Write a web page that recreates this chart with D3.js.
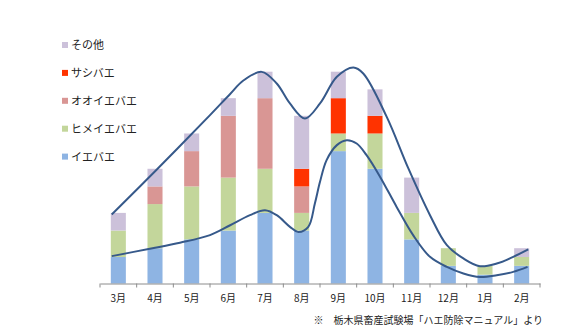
<!DOCTYPE html>
<html><head><meta charset="utf-8">
<script src="https://cdn.jsdelivr.net/npm/d3@7"></script>
<style>
html,body{margin:0;padding:0;background:#fff;}
svg{display:block;font-family:"Noto Sans CJK JP","Noto Sans",sans-serif;}
</style></head><body>
<svg id="c" width="562" height="332"></svg>
<script>
const months = ["3月","4月","5月","6月","7月","8月","9月","10月","11月","12月","1月","2月"];
const seriesNames = ["イエバエ","ヒメイエバエ","オオイエバエ","サシバエ","その他"];
const ieBae      = [1.5, 2, 2.5, 3, 4, 3, 7.5, 6.5, 2.5, 1, 0.5, 1];
const himeIeBae  = [1.5, 2.5, 3, 3, 2.5, 1, 1, 2, 1.5, 1, 0.5, 0.5];
const ooIeBae    = [0, 1, 2, 3.5, 4, 1.5, 0, 0, 0, 0, 0, 0];
const sashiBae   = [0, 0, 0, 0, 0, 1, 2, 1, 0, 0, 0, 0];
const sonota     = [1, 1, 1, 1, 1.5, 3, 1.5, 1.5, 2, 0, 0, 0.5];
const colors = ["#8EB4E3","#C3D69B","#D99694","#FF3300","#CCC1DA"];
// hand-drawn envelope curves: [month index, value]
const upperCurve = [[-0.18,3.91],[1.05,6.46],[2.5,9.54],[3.05,10.74],[3.41,11.5],[3.91,11.99],[4.32,11.33],[4.68,10.2],[5.09,9.35],[5.5,10.2],[5.96,11.71],[6.41,12.24],[6.68,11.9],[7.32,9.44],[7.91,6.52],[8.5,3.87],[8.96,2.17],[9.41,1.42],[9.86,0.98],[10.32,1.13],[10.77,1.51],[11.18,1.93]];
const lowerCurve = [[-0.18,1.55],[0.86,1.97],[1.68,2.31],[2.5,2.74],[3.05,3.3],[3.59,3.87],[4.0,4.15],[4.32,3.87],[4.68,3.21],[4.91,2.92],[5.18,3.21],[5.36,4.53],[5.5,5.76],[5.68,6.99],[5.96,7.84],[6.23,8.12],[6.5,7.93],[6.77,7.27],[7.14,6.04],[7.59,4.34],[8.04,2.74],[8.5,1.51],[8.96,0.94],[9.41,0.57],[9.86,0.37],[10.32,0.47],[10.77,0.66],[11.16,0.94]];
const note = "※　栃木県畜産試験場「ハエ防除マニュアル」より";

const svg = d3.select("#c");
const x = d3.scaleBand().domain(months).range([100,540]).padding(0);
const xi = d3.scaleLinear().domain([-0.5, 11.5]).range([100,540]);
const y = d3.scaleLinear().domain([0,14]).range([283.5,36.4]);
const barW = x.bandwidth()*0.41;

const table = months.map((m,i)=>({month:m, s0:ieBae[i], s1:himeIeBae[i], s2:ooIeBae[i], s3:sashiBae[i], s4:sonota[i]}));
const stack = d3.stack().keys(["s0","s1","s2","s3","s4"])(table);

svg.append("g").selectAll("g").data(stack).join("g")
  .attr("fill",(d,i)=>colors[i])
  .selectAll("rect").data(d=>d).join("rect")
  .attr("x",d=>x(d.data.month)+x.bandwidth()/2-barW/2)
  .attr("width",barW)
  .attr("y",d=>y(d[1]))
  .attr("height",d=>Math.max(0,y(d[0])-y(d[1])));

// axis
const ax = svg.append("g").attr("transform","translate(0,283.5)")
  .call(d3.axisBottom(x).tickSize(0).tickPadding(11));
ax.select(".domain").attr("stroke","#8c8c8c");
ax.selectAll("text").attr("font-size","10px").attr("fill","#222")
  .attr("font-family","'Noto Sans CJK JP',sans-serif");
const bounds = d3.range(13).map(i=>xi(i-0.5));
svg.append("g").selectAll("line").data(bounds).join("line")
  .attr("x1",d=>d).attr("x2",d=>d).attr("y1",283.5).attr("y2",287.5)
  .attr("stroke","#8c8c8c").attr("stroke-width",1);

// curves
const line = d3.line().x(d=>xi(d[0])).y(d=>y(d[1])).curve(d3.curveCatmullRom.alpha(0.5));
[upperCurve, lowerCurve].forEach(c=>{
  svg.append("path").attr("d",line(c)).attr("fill","none")
    .attr("stroke","#36598A").attr("stroke-width",2);
});

// legend
const legOrder = [4,3,2,1,0];
const lg = svg.append("g");
legOrder.forEach((si,k)=>{
  const yy = 45 + k*27.9;
  lg.append("rect").attr("x",62).attr("y",yy-3).attr("width",6).attr("height",6).attr("fill",colors[si]);
  lg.append("text").attr("x",71).attr("y",yy).attr("dy","0.36em")
    .attr("font-size","11px").attr("fill","#222").text(seriesNames[si]);
});

svg.append("text").attr("x",543).attr("y",320).attr("dy","0.36em")
  .attr("text-anchor","end").attr("font-size","10px").attr("fill","#222").text(note);
</script></body></html>
